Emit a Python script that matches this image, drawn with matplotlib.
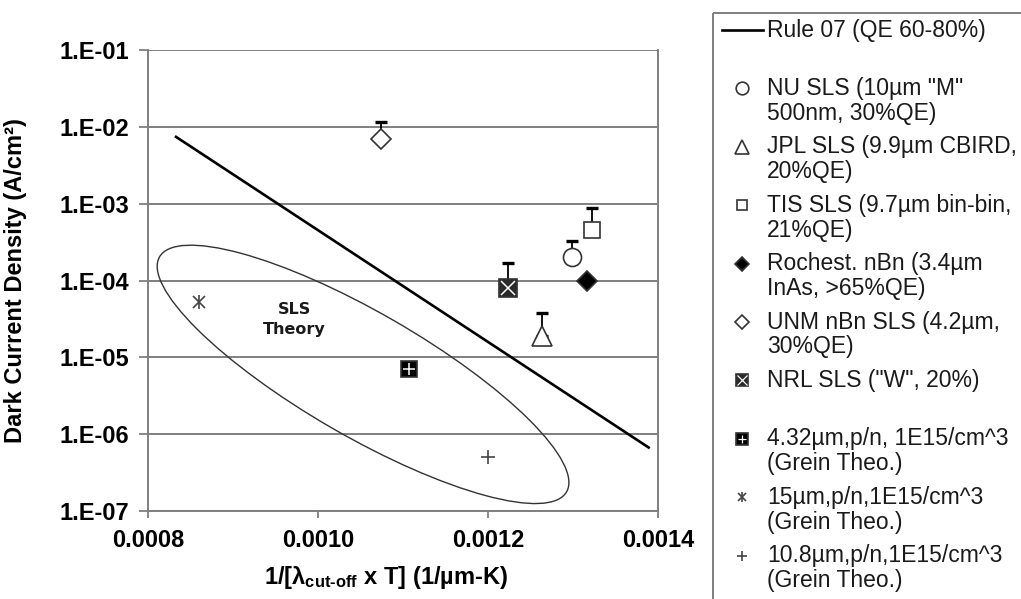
import numpy as np
import matplotlib.pyplot as plt
from matplotlib.patches import Ellipse, Rectangle
from matplotlib.transforms import IdentityTransform
from matplotlib.ticker import NullLocator

plt.rcParams['font.family'] = ['Liberation Sans', 'DejaVu Sans']
plt.rcParams['mathtext.fontset'] = 'custom'
plt.rcParams['mathtext.rm'] = 'Liberation Sans:bold'
plt.rcParams['mathtext.it'] = 'Liberation Sans:bold'
plt.rcParams['mathtext.bf'] = 'Liberation Sans:bold'
plt.rcParams['mathtext.default'] = 'regular'

# Rule 07 trend line, end points
rule_x = [0.000833, 0.001389]
rule_y = [7.4e-3, 6.7e-7]

# measured devices: NU, JPL, TIS, Rochester, UNM, NRL
dev_x = [0.001299, 0.001264, 0.001322, 0.001317, 0.001074, 0.001224]
dev_y = [2.0e-4, 1.9e-5, 4.5e-4, 1.0e-4, 7.0e-3, 8.1e-5]
dev_top = [3.3e-4, 3.8e-5, 8.9e-4, None, 1.16e-2, 1.7e-4]

# Grein theory points: 4.32um, 15um, 10.8um
theo_x = [0.001107, 0.00086, 0.0012]
theo_y = [7.0e-6, 5.2e-5, 5.0e-7]

# "SLS Theory" region
ell_x, ell_y = 0.001053, 6.0e-6

xticks = [0.0008, 0.0010, 0.0012, 0.0014]
yticks = [1e-7, 1e-6, 1e-5, 1e-4, 1e-3, 1e-2, 1e-1]
ytick_labels = ['1.E-07', '1.E-06', '1.E-05', '1.E-04', '1.E-03', '1.E-02', '1.E-01']

legend_labels = [
    ('Rule 07 (QE 60-80%)', ''),
    ('NU SLS (10µm "M"', '500nm, 30%QE)'),
    ('JPL SLS (9.9µm CBIRD,', '20%QE)'),
    ('TIS SLS (9.7µm bin-bin,', '21%QE)'),
    ('Rochest. nBn (3.4µm', 'InAs, >65%QE)'),
    ('UNM nBn SLS (4.2µm,', '30%QE)'),
    ('NRL SLS ("W", 20%)', ''),
    ('4.32µm,p/n, 1E15/cm^3', '(Grein Theo.)'),
    ('15µm,p/n,1E15/cm^3', '(Grein Theo.)'),
    ('10.8µm,p/n,1E15/cm^3', '(Grein Theo.)'),
]

GRID = '#7f7f7f'
EDGE = '#333333'

# marker styles: (marker, size, facecolor, overlay marker)
dev_style = [
    ('o', 13, 'white', None),
    ('^', 14, 'white', None),
    ('s', 11, 'white', None),
    ('D', 10, 'black', None),
    ('D', 10, 'white', None),
    ('s', 12.5, '#2a2a2a', 'x'),
]
theo_style = [
    ('s', 12, 'black', '+'),
    ('x', 8, '#444444', '|'),
    ('+', 10, '#444444', None),
]


def draw_marker(axis, x, y, style, scale=1.0, zorder=5):
    m, size, face, over = style
    if m in ('+', 'x'):
        axis.plot(x, y, ls='none', marker=m, ms=size * scale, mec=face,
                  mew=1.2, zorder=zorder)
        if over is not None:
            axis.plot(x, y, ls='none', marker=over, ms=size * scale * 1.25,
                      mec=face, mew=1.2, zorder=zorder)
        return
    axis.plot(x, y, ls='none', marker=m, ms=size * scale, mfc=face, mec=EDGE,
              mew=1.2, zorder=zorder)
    if over is not None:
        axis.plot(x, y, ls='none', marker=over, ms=size * scale * 0.75,
                  mec='white', mew=1.1 * max(scale, 0.8), zorder=zorder + 1)


fig = plt.figure(figsize=(10.21, 5.99), dpi=100)
ax = fig.add_axes([148 / 1021, 88 / 599, 510 / 1021, 461 / 599])

ax.set_yscale('log')
ax.set_xlim(0.0008, 0.0014)
ax.set_ylim(1e-7, 1e-1)
ax.yaxis.set_minor_locator(NullLocator())
ax.set_xticks(xticks)
ax.set_xticklabels(['%.4f' % v for v in xticks], fontweight='bold', fontsize=17)
ax.set_yticks(yticks)
ax.set_yticklabels(ytick_labels, fontweight='bold', fontsize=17)
ax.tick_params(axis='y', length=6.5, width=1.3, color=GRID, pad=7)
ax.tick_params(axis='x', length=5, width=1.3, color=GRID, pad=8)

ax.yaxis.grid(True, color=GRID, lw=1.4)
ax.set_axisbelow(True)
for name, sp in ax.spines.items():
    sp.set_color(GRID)
    sp.set_linewidth(1.4)
ax.spines['top'].set_visible(False)

# Rule 07
ax.plot(rule_x, rule_y, color='black', lw=1.9, zorder=4)

# error bars (upper only) then the device markers
for x, y, top in zip(dev_x, dev_y, dev_top):
    if top is not None:
        ax.errorbar([x], [y], yerr=[[0], [top - y]], fmt='none', ecolor='black',
                    elinewidth=1.3, capsize=4, capthick=2.4, zorder=4)
for x, y, st in zip(dev_x, dev_y, dev_style):
    draw_marker(ax, [x], [y], st)

for x, y, st in zip(theo_x, theo_y, theo_style):
    draw_marker(ax, [x], [y], st)

# SLS theory ellipse, sized in screen pixels around its data centre
cx, cy = ax.transData.transform((ell_x, ell_y))
ax.add_patch(Ellipse((cx, cy), 470, 124, angle=-30, transform=IdentityTransform(),
                     fill=False, ec=EDGE, lw=1.0, zorder=3))
ax.text(0.000972, 3.1e-5, 'SLS\nTheory', ha='center', va='center',
        family='DejaVu Sans', fontweight='bold', fontsize=11.5, linespacing=1.45,
        color='#1a1a1a')

ax.set_ylabel('Dark Current Density (A/cm²)', fontsize=17, fontweight='bold')
ax.yaxis.set_label_coords(-0.237, 0.5)
ax.set_xlabel(r'1/[$\lambda_{\text{cut-off}}$ x T] (1/µm-K)', fontsize=17,
              fontweight='bold', va='center')
ax.xaxis.set_label_coords(0.467, -0.145)

# legend panel drawn in pixel units
lg = fig.add_axes([0, 0, 1, 1])
lg.set_xlim(0, 1021)
lg.set_ylim(599, 0)
lg.axis('off')
lg.add_patch(Rectangle((713, 13), 340, 620, fill=False, ec=GRID, lw=1.4))

row0, step = 30, 58.4
leg_styles = [None] + dev_style + theo_style
for i, (lines, st) in enumerate(zip(legend_labels, leg_styles)):
    yy = row0 + step * i
    if st is None:
        lg.plot([722, 763], [yy, yy], color='black', lw=1.9)
    else:
        draw_marker(lg, [742], [yy], st, scale=0.7)
    lg.text(767, yy, lines[0], ha='left', va='center', fontsize=16.5, color='#1a1a1a')
    if lines[1]:
        lg.text(767, yy + 25, lines[1], ha='left', va='center', fontsize=16.5,
                color='#1a1a1a')

fig.savefig('out.png', dpi=100, facecolor='white')
